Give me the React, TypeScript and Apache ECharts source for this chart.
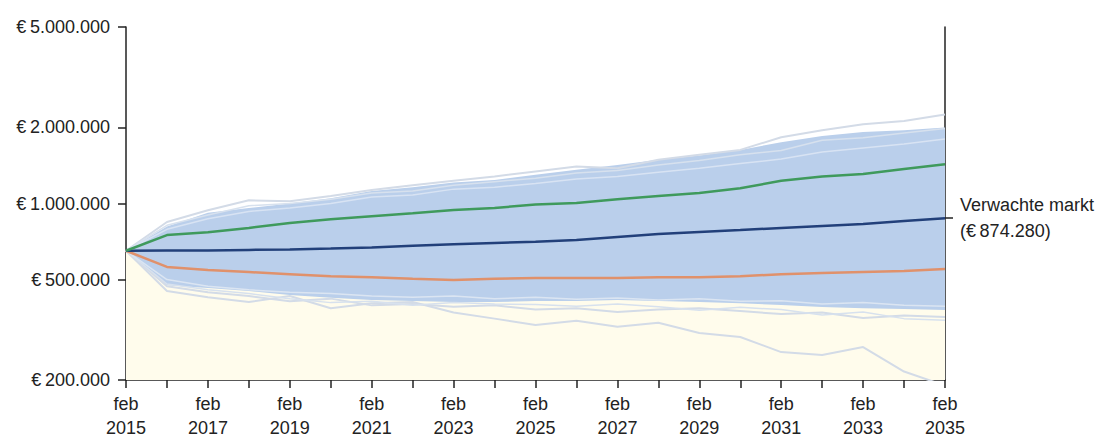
import React, { useEffect, useRef } from "react";
import * as echarts from "echarts";

const years = [2015, 2016, 2017, 2018, 2019, 2020, 2021, 2022, 2023, 2024, 2025, 2026, 2027, 2028, 2029, 2030, 2031, 2032, 2033, 2034, 2035];

const yTicks = [200000, 500000, 1000000, 2000000, 5000000];

const expected = [650000, 651000, 652000, 655000, 658000, 663000, 670000, 680000, 690000, 698000, 705000, 717000, 737000, 757000, 771000, 785000, 800000, 815000, 830000, 852000, 874280];
const upperPct = [650000, 750000, 770000, 800000, 837000, 866000, 890000, 915000, 942000, 960000, 990000, 1004000, 1040000, 1070000, 1100000, 1150000, 1230000, 1280000, 1310000, 1370000, 1430000];
const lowerPct = [650000, 561000, 545000, 535000, 525000, 515000, 510000, 503000, 498000, 503000, 507000, 507000, 507000, 510000, 510000, 515000, 525000, 530000, 535000, 540000, 550000];

const bandTop = [650000, 810000, 920000, 960000, 1000000, 1050000, 1120000, 1160000, 1210000, 1240000, 1300000, 1360000, 1420000, 1490000, 1550000, 1630000, 1750000, 1850000, 1920000, 1950000, 2000000];
const bandBottom = [650000, 475000, 463000, 450000, 434000, 423000, 415000, 411000, 407000, 407000, 411000, 411000, 415000, 411000, 407000, 403000, 396000, 389000, 385000, 382000, 379000];

const pathA = [650000, 450000, 425000, 407000, 430000, 385000, 403000, 407000, 370000, 350000, 330000, 343000, 325000, 337000, 307000, 296000, 258000, 251000, 270000, 216000, 190000];
const pathB = [650000, 470000, 445000, 430000, 410000, 420000, 395000, 400000, 390000, 395000, 380000, 385000, 372000, 380000, 385000, 375000, 365000, 370000, 352000, 360000, 355000];
const pathC = [650000, 480000, 455000, 440000, 420000, 405000, 410000, 395000, 405000, 400000, 398000, 392000, 400000, 390000, 378000, 388000, 380000, 362000, 372000, 350000, 345000];
const pathD = [650000, 845000, 940000, 1030000, 1020000, 1070000, 1130000, 1180000, 1230000, 1280000, 1340000, 1400000, 1380000, 1490000, 1560000, 1630000, 1830000, 1950000, 2060000, 2120000, 2250000];
const pathE = [650000, 820000, 900000, 980000, 1000000, 1040000, 1100000, 1120000, 1180000, 1220000, 1260000, 1320000, 1350000, 1420000, 1480000, 1560000, 1620000, 1780000, 1820000, 1900000, 1980000];
const pathF = [650000, 790000, 870000, 930000, 960000, 1000000, 1060000, 1080000, 1140000, 1160000, 1200000, 1250000, 1280000, 1330000, 1380000, 1440000, 1500000, 1600000, 1660000, 1720000, 1800000];
const pathG = [650000, 500000, 470000, 455000, 445000, 440000, 430000, 425000, 430000, 420000, 425000, 418000, 422000, 415000, 420000, 410000, 412000, 400000, 405000, 395000, 392000];

const expectedLabel = "Verwachte markt\n(€\u2009874.280)";

const fmtEuro = (v: number) => "€\u2009" + Math.round(v).toString().replace(/\B(?=(\d{3})+(?!\d))/g, ".");

const pts = (vals: number[]) => years.map((y, i) => [y, vals[i]]);

export default function App() {
  const ref = useRef<HTMLDivElement>(null);
  useEffect(() => {
    if (!ref.current) return;
    const chart = echarts.init(ref.current, null, { renderer: "svg" });
    const txt = { color: "#222", fontSize: 18, fontFamily: "Liberation Sans, Arial, sans-serif" };
    const light = (name: string, vals: number[], color: string, width: number) => ({
      name,
      type: "line",
      data: pts(vals),
      showSymbol: false,
      silent: true,
      lineStyle: { color, width },
      z: 3,
    });
    chart.setOption({
      animation: false,
      grid: { left: 126, right: 165, top: 27, bottom: 59, outerBoundsMode: "none" },
      xAxis: {
        type: "value",
        min: 2015,
        max: 2035,
        interval: 1,
        splitLine: { show: false },
        axisLine: { show: true, lineStyle: { color: "#222", width: 1.5 } },
        axisTick: { show: true, length: 8, lineStyle: { color: "#222", width: 1.5 } },
        axisLabel: {
          ...txt,
          margin: 12,
          lineHeight: 24,
          formatter: (v: number) => ((v - 2015) % 2 === 0 ? "feb\n" + v : ""),
        },
      },
      yAxis: [
        {
          type: "log",
          min: 200000,
          max: 5000000,
          splitLine: { show: false },
          axisLine: { show: true, lineStyle: { color: "#222", width: 1.5 } },
          axisTick: { show: true, length: 8, customValues: yTicks, lineStyle: { color: "#222", width: 1.5 } },
          axisLabel: { ...txt, margin: 16, customValues: yTicks, formatter: (v: number) => fmtEuro(v) },
        },
        {
          type: "log",
          position: "right",
          min: 200000,
          max: 5000000,
          splitLine: { show: false },
          axisLine: { show: true, lineStyle: { color: "#222", width: 1.5 } },
          axisTick: { show: true, length: 8, customValues: [expected[expected.length - 1]], lineStyle: { color: "#222", width: 1.5 } },
          axisLabel: {
            ...txt,
            margin: 15,
            lineHeight: 26,
            align: "left",
            customValues: [expected[expected.length - 1]],
            formatter: () => expectedLabel,
          },
        },
      ],
      series: [
        {
          name: "bandTop",
          type: "line",
          data: pts(bandTop),
          showSymbol: false,
          silent: true,
          lineStyle: { width: 0 },
          areaStyle: { color: "#bacfeb", opacity: 1, origin: "start" },
          z: 1,
        },
        {
          name: "bandBottom",
          type: "line",
          data: pts(bandBottom),
          showSymbol: false,
          silent: true,
          lineStyle: { width: 0 },
          areaStyle: { color: "#fffcec", opacity: 1, origin: "start" },
          z: 2,
        },
        light("pathA", pathA, "#d3dbe7", 2),
        light("pathB", pathB, "#d3dbe7", 2),
        light("pathC", pathC, "#d7e1ee", 1.5),
        light("pathG", pathG, "#dbe5f2", 1.5),
        light("pathD", pathD, "#d3dbe7", 2),
        light("pathE", pathE, "#d7e1ee", 1.5),
        light("pathF", pathF, "#d8e3f3", 1.5),
        {
          name: "lower",
          type: "line",
          data: pts(lowerPct),
          showSymbol: false,
          lineStyle: { color: "#e0916b", width: 2.5 },
          z: 5,
        },
        {
          name: "expected",
          type: "line",
          data: pts(expected),
          showSymbol: false,
          lineStyle: { color: "#22407a", width: 2.5 },
          z: 5,
        },
        {
          name: "upper",
          type: "line",
          data: pts(upperPct),
          showSymbol: false,
          lineStyle: { color: "#3f9a5c", width: 2.5 },
          z: 5,
        },
      ],
    });
    return () => chart.dispose();
  }, []);
  return <div ref={ref} style={{ position: "absolute", left: 0, top: 0, width: 1110, height: 439 }} />;
}
